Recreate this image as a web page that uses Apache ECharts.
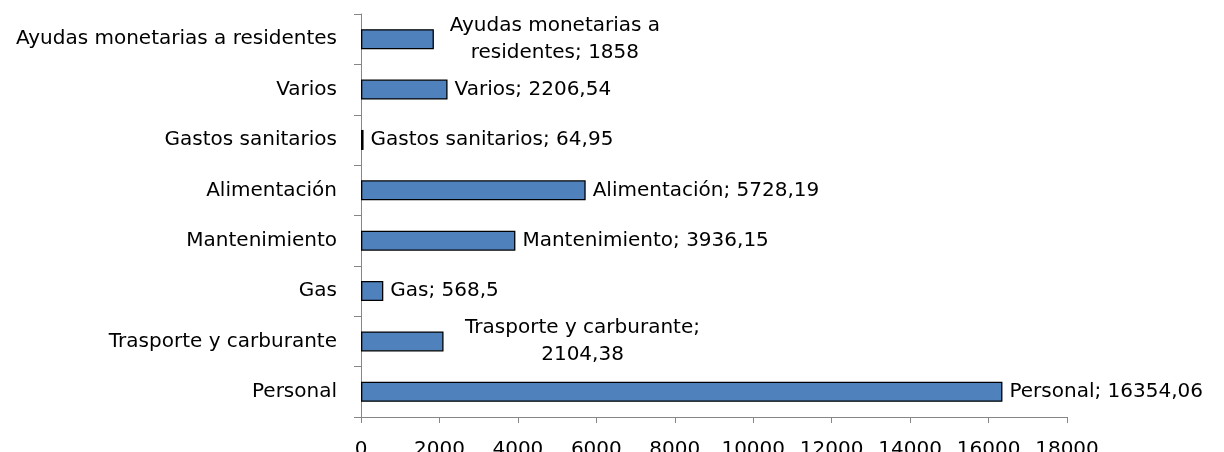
<!DOCTYPE html>
<html>
<head>
<meta charset="utf-8">
<script src="https://cdn.jsdelivr.net/npm/echarts@6/dist/echarts.min.js"></script>
<style>
  html, body { margin: 0; padding: 0; background: #fff; }
  #chart { width: 1224px; height: 452px; }
</style>
</head>
<body>
<div id="chart"></div>
<script>
// categorias de abajo hacia arriba
var categories = ['Personal', 'Trasporte y carburante', 'Gas', 'Mantenimiento', 'Alimentación', 'Gastos sanitarios', 'Varios', 'Ayudas monetarias a residentes'];
var values = [16354.06, 2104.38, 568.5, 3936.15, 5728.19, 64.95, 2206.54, 1858];
var xTicks = { min: 0, max: 18000, interval: 2000 };

var FONT = 'DejaVu Sans';
var FSIZE = 20;

function fmt(v) {
  return String(v).replace('.', ',');
}

// etiquetas que van en dos lineas
var wrapped = {
  'Ayudas monetarias a residentes': ['Ayudas monetarias a', 'residentes; '],
  'Trasporte y carburante': ['Trasporte y carburante;', '']
};

var data = values.map(function (v, i) {
  var name = categories[i];
  var item = { value: v };
  if (wrapped[name]) {
    item.label = {
      formatter: function () {
        var w = wrapped[name];
        return '{w|' + w[0] + '}\n{w|' + w[1] + fmt(v) + '}';
      },
      rich: {
        w: {
          width: name === 'Trasporte y carburante' ? 264 : 228,
          align: 'center',
          fontFamily: FONT,
          fontSize: FSIZE,
          lineHeight: 27,
          color: '#000'
        }
      }
    };
  }
  return item;
});

var myChart = echarts.init(document.getElementById('chart'));

var option = {
  animation: false,
  grid: { left: 361, right: 157, top: 14, bottom: 35, containLabel: false, outerBoundsMode: 'none' },
  xAxis: {
    type: 'value',
    min: xTicks.min,
    max: xTicks.max,
    interval: xTicks.interval,
    splitLine: { show: false },
    axisLine: { show: true, lineStyle: { color: '#868686', width: 1 } },
    axisTick: { show: true, length: 6, lineStyle: { color: '#868686' } },
    axisLabel: {
      margin: 23, color: '#000', fontFamily: FONT, fontSize: FSIZE,
      formatter: function (v) { return String(v); }
    }
  },
  yAxis: {
    type: 'category',
    data: categories,
    axisLine: { show: true, lineStyle: { color: '#868686', width: 1 } },
    axisTick: { show: true, length: 7, lineStyle: { color: '#868686' } },
    axisLabel: { margin: 24, color: '#000', fontFamily: FONT, fontSize: FSIZE }
  },
  series: [{
    type: 'bar',
    data: data,
    barWidth: 20,
    itemStyle: { color: '#4f81bd', borderColor: '#000', borderWidth: 1.3 },
    label: {
      show: true,
      position: 'right',
      distance: 7,
      color: '#000',
      fontFamily: FONT,
      fontSize: FSIZE,
      formatter: function (p) {
        return p.name + '; ' + fmt(p.value);
      }
    }
  }]
};

myChart.setOption(option);

window.addEventListener('resize', function () {
  if (myChart) {
    myChart.resize();
  }
});
</script>
</body>
</html>
